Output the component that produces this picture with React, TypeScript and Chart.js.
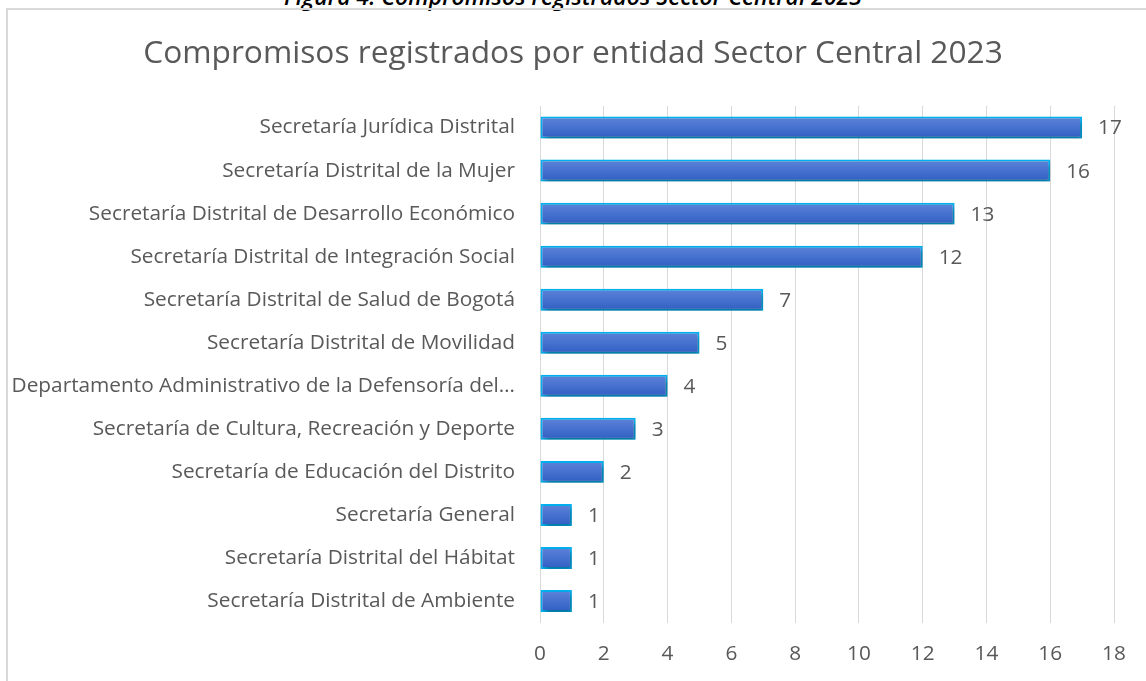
import React, { useEffect, useRef } from "react";
import { Chart, registerables } from "chart.js";

Chart.register(...registerables);

const categories = [
  "Secretaría Jurídica Distrital",
  "Secretaría Distrital de la Mujer",
  "Secretaría Distrital de Desarrollo Económico",
  "Secretaría Distrital de Integración Social",
  "Secretaría Distrital de Salud de Bogotá",
  "Secretaría Distrital de Movilidad",
  "Departamento Administrativo de la Defensoría del…",
  "Secretaría de Cultura, Recreación y Deporte",
  "Secretaría de Educación del Distrito",
  "Secretaría General",
  "Secretaría Distrital del Hábitat",
  "Secretaría Distrital de Ambiente",
];
const values = [17, 16, 13, 12, 7, 5, 4, 3, 2, 1, 1, 1];
const xTicks = [0, 2, 4, 6, 8, 10, 12, 14, 16, 18];

const FONT = "'Open Sans', 'Noto Sans', sans-serif";
const TEXT = "#595959";
const LABEL_SIZE = 20.8;

export default function App() {
  const ref = useRef<HTMLCanvasElement | null>(null);

  useEffect(() => {
    const canvas = ref.current;
    if (!canvas) return;

    const shadowPlugin = {
      id: "barShadow",
      beforeDatasetDraw(chart: any) {
        const ctx = chart.ctx;
        ctx.save();
        ctx.shadowColor = "rgba(0,0,0,0.38)";
        ctx.shadowBlur = 5;
        ctx.shadowOffsetX = 2;
        ctx.shadowOffsetY = 3;
      },
      afterDatasetDraw(chart: any) {
        chart.ctx.restore();
      },
    };

    const labelPlugin = {
      id: "valueLabels",
      afterDatasetsDraw(chart: any) {
        const ctx = chart.ctx;
        const meta = chart.getDatasetMeta(0);
        ctx.save();
        ctx.font = `${LABEL_SIZE}px ${FONT}`;
        ctx.fillStyle = TEXT;
        ctx.textAlign = "left";
        ctx.textBaseline = "middle";
        meta.data.forEach((el: any, i: number) => {
          ctx.fillText(String(values[i]), el.x + 16, el.y + 1);
        });
        ctx.restore();
      },
    };

    const chart = new Chart(canvas, {
      type: "bar",
      data: {
        labels: categories,
        datasets: [
          {
            data: values,
            backgroundColor: (c: any) => {
              const chartObj = c.chart;
              const yScale = chartObj.scales?.y;
              if (!yScale || c.dataIndex === undefined) return "#4472c4";
              const cy = yScale.getPixelForValue(c.dataIndex);
              if (!Number.isFinite(cy)) return "#4472c4";
              const g = chartObj.ctx.createLinearGradient(0, cy - 11, 0, cy + 11);
              g.addColorStop(0, "#5f84d9");
              g.addColorStop(0.5, "#4671cf");
              g.addColorStop(1, "#2f5ec2");
              return g;
            },
            borderColor: "#00b0f0",
            borderWidth: 2,
            borderSkipped: false,
            categoryPercentage: 1,
            barPercentage: 0.51,
          },
        ],
      },
      options: {
        indexAxis: "y",
        responsive: false,
        animation: false,
        events: [],
        layout: { padding: 0 },
        plugins: {
          legend: { display: false },
          tooltip: { enabled: false },
          title: {
            display: true,
            text: "Compromisos registrados por entidad Sector Central 2023",
            color: TEXT,
            font: { family: FONT, size: 31.7, weight: "normal", lineHeight: 1.2 },
            padding: { top: 35, bottom: 33 },
          },
        },
        scales: {
          x: {
            min: 0,
            max: 18,
            afterBuildTicks: (s: any) => {
              s.ticks = xTicks.map((v) => ({ value: v }));
            },
            afterFit: (s: any) => {
              s.height = 58.5;
            },
            grid: { color: "#d9d9d9", lineWidth: 1, drawTicks: false },
            border: { display: false },
            ticks: {
              color: TEXT,
              font: { family: FONT, size: LABEL_SIZE },
              padding: 19,
            },
          },
          y: {
            afterFit: (s: any) => {
              s.width = 540;
            },
            grid: { display: false, drawTicks: false },
            border: { display: false },
            ticks: {
              color: TEXT,
              font: { family: FONT, size: LABEL_SIZE },
              padding: 25,
              autoSkip: false,
            },
          },
          spacer: {
            type: "linear",
            position: "right",
            axis: "y",
            afterFit: (s: any) => {
              s.width = 32;
            },
            grid: { display: false, drawTicks: false },
            border: { display: false },
            ticks: { display: false },
          },
        },
      },
      plugins: [shadowPlugin, labelPlugin],
    } as any);

    return () => chart.destroy();
  }, []);

  return (
    <div
      style={{
        position: "fixed",
        left: 0,
        top: 0,
        width: 1146,
        height: 681,
        overflow: "hidden",
        background: "#ffffff",
      }}
    >
      <div
        style={{
          position: "absolute",
          left: 0,
          top: -15,
          width: 1146,
          textAlign: "center",
          fontFamily: FONT,
          fontStyle: "italic",
          fontWeight: 600,
          fontSize: 23,
          lineHeight: "23px",
          color: "#000",
          whiteSpace: "nowrap",
        }}
      >
        Figura 4. Compromisos registrados Sector Central 2023
      </div>
      <div
        style={{
          position: "absolute",
          left: 6,
          top: 8,
          width: 1160,
          height: 700,
          border: "2px solid #d9d9d9",
          boxSizing: "border-box",
        }}
      />
      <canvas
        ref={ref}
        width={1146}
        height={681}
        style={{ position: "absolute", left: 0, top: 0 }}
      />
    </div>
  );
}
